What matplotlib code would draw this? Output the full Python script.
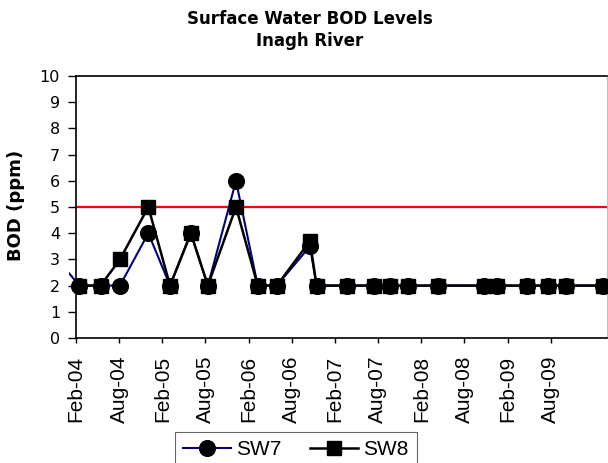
import matplotlib
matplotlib.use("Agg")
import matplotlib.pyplot as plt
import matplotlib.dates as mdates
from matplotlib.patches import Rectangle
import pandas as pd

# Sampling dates and BOD results (ppm) for the two surface water stations
sw7_dates = ["2003-11-15", "2004-02-15", "2004-05-15", "2004-08-05", "2004-12-03",
             "2005-03-05", "2005-06-01", "2005-08-12", "2005-12-09", "2006-03-11",
             "2006-05-31", "2006-10-18", "2006-11-15", "2007-03-22", "2007-07-16",
             "2007-09-21", "2007-12-08", "2008-04-10", "2008-10-23", "2008-12-17",
             "2009-04-22", "2009-07-23", "2009-10-04", "2010-03-12"]
sw7_bod = [3, 2, 2, 2, 4, 2, 4, 2, 6, 2, 2, 3.5, 2, 2, 2, 2, 2, 2, 2, 2, 2, 2, 2, 2]

sw8_dates = ["2004-02-15", "2004-05-15", "2004-08-05", "2004-12-03",
             "2005-03-05", "2005-06-01", "2005-08-12", "2005-12-09", "2006-03-11",
             "2006-05-31", "2006-10-18", "2006-11-15", "2007-03-22", "2007-07-16",
             "2007-09-21", "2007-12-08", "2008-04-10", "2008-10-23", "2008-12-17",
             "2009-04-22", "2009-07-23", "2009-10-04", "2010-03-12"]
sw8_bod = [2, 2, 3, 5, 2, 4, 2, 5, 2, 2, 3.7, 2, 2, 2, 2, 2, 2, 2, 2, 2, 2, 2, 2]

limit_bod = 5
x_start, x_end = "2004-02-01", "2010-03-28"
x_ticks = ["2004-02-01", "2004-08-01", "2005-02-01", "2005-08-01", "2006-02-01",
           "2006-08-01", "2007-02-01", "2007-08-01", "2008-02-01", "2008-08-01",
           "2009-02-01", "2009-08-01"]
y_ticks = list(range(0, 11))

fig = plt.figure(figsize=(6.08, 4.63), dpi=100)
W, H = 608, 463
ax = fig.add_axes([76 / W, 1 - 338 / H, (607 - 76) / W, (338 - 76) / H])

d7 = pd.to_datetime(sw7_dates)
d8 = pd.to_datetime(sw8_dates)

l7, = ax.plot(d7, sw7_bod, color="#000080", lw=1.5, marker="o", ms=11.3,
              mfc="black", mec="black", label="SW7", zorder=3)
# let the first segment show just left of the value axis
l7.set_clip_path(Rectangle((-0.014, 0), 1.014, 1, transform=ax.transAxes))
ax.plot(d8, sw8_bod, color="black", lw=1.8, marker="s", ms=9.5,
        mfc="black", mec="black", label="SW8", zorder=4)
ax.axhline(limit_bod, color="red", lw=1.6, zorder=2)

ax.set_xlim(pd.Timestamp(x_start), pd.Timestamp(x_end))
ax.set_ylim(0, 10)
ax.set_yticks(y_ticks)
ax.set_xticks(pd.to_datetime(x_ticks))
ax.xaxis.set_major_formatter(mdates.DateFormatter("%b-%y"))

for lbl in ax.get_yticklabels():
    lbl.set_fontfamily("DejaVu Sans")
    lbl.set_fontsize(11.5)
for lbl in ax.get_xticklabels():
    lbl.set_fontfamily("Liberation Sans")
    lbl.set_fontsize(15)
    lbl.set_rotation(90)

ax.tick_params(axis="y", direction="out", length=5.5, width=1, pad=6)
ax.tick_params(axis="x", direction="out", length=3.6, width=1, pad=9)

for side in ["left", "bottom", "top"]:
    ax.spines[side].set_linewidth(1.2)
    ax.spines[side].set_color("black")
ax.spines["right"].set_color("#c0c0c0")
ax.spines["right"].set_linewidth(0.8)

fig.text(310 / W, 1 - 10 / H, "Surface Water BOD Levels\nInagh River",
         ha="center", va="top", fontsize=12, fontweight="bold",
         family="DejaVu Sans", linespacing=1.25)
fig.text(15.7 / W, 1 - 205 / H, "BOD (ppm)", rotation=90, ha="center",
         va="center", fontsize=13, fontweight="bold", family="DejaVu Sans")

leg = fig.legend(handles=ax.get_lines()[:2], labels=["SW7", "SW8"],
                 loc="upper left", bbox_to_anchor=(175 / W, 1 - 431.7 / H),
                 ncol=2, frameon=True, fancybox=False, borderaxespad=0,
                 borderpad=0.4, handlelength=2.28, handletextpad=0.24,
                 columnspacing=1.4, prop={"family": "Liberation Sans", "size": 15})
leg.get_frame().set_edgecolor("#404040")
leg.get_frame().set_linewidth(0.8)

fig.savefig("out.png", dpi=100)
